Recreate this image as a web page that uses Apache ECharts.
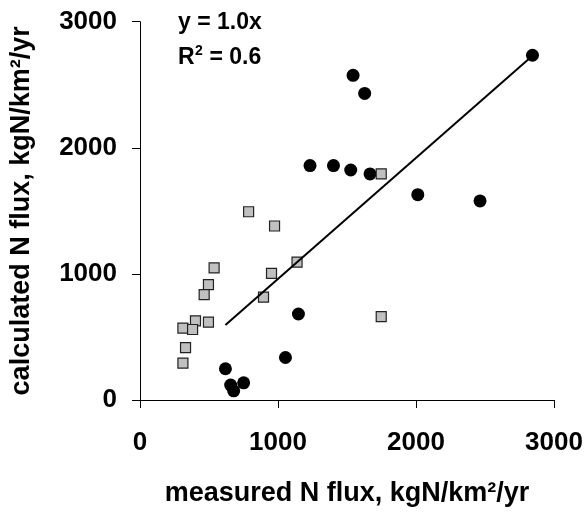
<!DOCTYPE html>
<html><head><meta charset="utf-8">
<script src="https://cdn.jsdelivr.net/npm/echarts@6/dist/echarts.min.js"></script>
<style>html,body{margin:0;padding:0;background:#fff}#c{width:587px;height:512px}</style>
</head><body><div id="c"></div>
<script>
var circlesX = [1544,1628,1232,1402,1527,1667,2013,2844,2464,1148,1054,619,657,679,751];
var circlesY = [2575,2431,1859,1859,1824,1793,1628,2734,1579,682,337,248,118,73,136];
var squaresX = [787,975,1138,953,895,537,496,465,402,496,311,381,330,311,1748,1748];
var squaresY = [1493,1380,1093,1004,816,1048,915,836,627,617,570,559,416,293,661,1793];
var trendX = [619,2844];
var trendY = [594,2730];
var xTicks = [0,1000,2000,3000];
var yTicks = [0,1000,2000,3000];
var xTitle = 'measured N flux, kgN/km²/yr';
var yTitle = 'calculated N flux, kgN/km²/yr';
var eqLine1 = 'y = 1.0x';
var eqR = 'R', eqSup = '2', eqRest = ' = 0.6';

function zip(a,b){return a.map(function(v,i){return [v,b[i]];});}
var font = 'Liberation Sans, Arial, sans-serif';
var chart = echarts.init(document.getElementById('c'));
chart.setOption({
  animation:false,
  grid:{left:137.5,right:33,top:21.7,bottom:107.7},
  xAxis:{type:'value',min:xTicks[0],max:xTicks[xTicks.length-1],interval:1000,
    name:xTitle,nameLocation:'middle',nameGap:80,
    nameTextStyle:{fontFamily:font,fontWeight:'bold',fontSize:27,color:'#000'},
    axisLine:{lineStyle:{color:'#000',width:1}},
    axisTick:{show:true,length:8,lineStyle:{color:'#000'}},
    axisLabel:{fontFamily:font,fontWeight:'bold',fontSize:26,color:'#000',margin:30,
      formatter:function(v){return String(v);}},
    splitLine:{show:false}},
  yAxis:{type:'value',min:yTicks[0],max:yTicks[yTicks.length-1],interval:1000,
    name:yTitle,nameLocation:'middle',nameGap:105,
    nameTextStyle:{fontFamily:font,fontWeight:'bold',fontSize:27,color:'#000'},
    axisLine:{show:true,lineStyle:{color:'#000',width:1}},
    axisTick:{show:true,length:8,lineStyle:{color:'#000'}},
    axisLabel:{fontFamily:font,fontWeight:'bold',fontSize:26,color:'#000',margin:23,
      formatter:function(v){return String(v);}},
    splitLine:{show:false}},
  graphic:[
    {type:'text',x:178,y:23,style:{text:eqLine1,font:'bold 23px '+font,fill:'#000',verticalAlign:'middle'}},
    {type:'text',x:178,y:57.5,style:{text:eqR,font:'bold 23px '+font,fill:'#000',verticalAlign:'middle'}},
    {type:'text',x:195,y:51,style:{text:eqSup,font:'bold 14px '+font,fill:'#000',verticalAlign:'middle'}},
    {type:'text',x:203,y:57.5,style:{text:eqRest,font:'bold 23px '+font,fill:'#000',verticalAlign:'middle'}}
  ],
  series:[
    {type:'scatter',data:zip(circlesX,circlesY),symbol:'circle',symbolSize:13,
      itemStyle:{color:'#000',opacity:1}},
    {type:'scatter',data:zip(squaresX,squaresY),symbol:'rect',symbolSize:10,
      itemStyle:{color:'#c0c0c0',borderColor:'#222',borderWidth:1.2,opacity:1}},
    {type:'line',data:zip(trendX,trendY),symbol:'none',lineStyle:{color:'#000',width:2}}
  ]
});
</script></body></html>
